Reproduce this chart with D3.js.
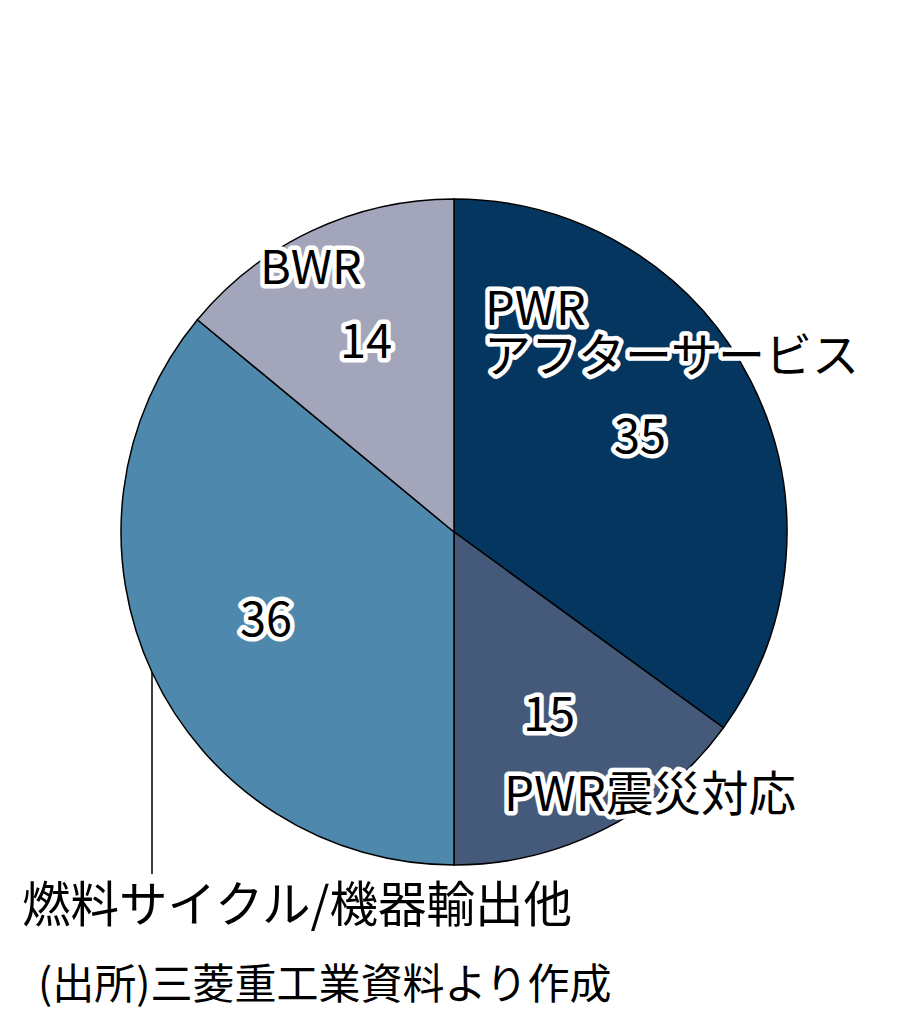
<!DOCTYPE html>
<html>
<head>
<meta charset="utf-8">
<script src="https://cdn.jsdelivr.net/npm/d3@7"></script>
<style>
  body { margin: 0; background: #fff; }
  text { font-family: "Noto Sans CJK JP", "Noto Sans", sans-serif; }
</style>
</head>
<body>
<script>
const categories = ["PWRアフターサービス", "PWR震災対応", "燃料サイクル/機器輸出他", "BWR"];
const values = [35, 15, 36, 14];
const colors = ["#04365f", "#455a7a", "#4f88ad", "#a3a6ba"];

const width = 908;
const height = 1024;
const cx = 454;
const cy = 532;
const radius = 333;

const svg = d3
  .select("body")
  .append("svg")
  .attr("width", width)
  .attr("height", height);

const pie = d3.pie().sort(null).value((d) => d);
const arc = d3.arc().innerRadius(0).outerRadius(radius);

const g = svg.append("g").attr("transform", `translate(${cx}, ${cy})`);

g.selectAll("path")
  .data(pie(values))
  .join("path")
  .attr("d", arc)
  .attr("fill", (d, i) => colors[i])
  .attr("stroke", "#000")
  .attr("stroke-width", 1.5);

// leader line for the fuel cycle slice
svg.append("line")
  .attr("x1", 152).attr("y1", 672)
  .attr("x2", 152).attr("y2", 874)
  .attr("stroke", "#000")
  .attr("stroke-width", 1.5);

// label text with white halo
function haloText(x, y, str, size, anchor) {
  const t = svg.append("g");
  t.append("text")
    .attr("x", x).attr("y", y)
    .attr("font-size", size)
    .attr("text-anchor", anchor)
    .attr("fill", "#fff")
    .attr("stroke", "#fff")
    .attr("stroke-width", 9)
    .attr("stroke-linejoin", "round")
    .text(str);
  t.append("text")
    .attr("x", x).attr("y", y)
    .attr("font-size", size)
    .attr("text-anchor", anchor)
    .attr("fill", "#000")
    .text(str);
}

haloText(485, 325, "PWR", 47, "start");
haloText(484, 372, "アフターサービス", 47, "start");
haloText(640, 453, values[0], 47, "middle");
haloText(549, 731, values[1], 47, "middle");
haloText(504, 811, "PWR震災対応", 47.5, "start");
haloText(266, 636, values[2], 47, "middle");
haloText(260, 284, "BWR", 47, "start");
haloText(366, 358, values[3], 47, "middle");

svg.append("text")
  .attr("x", 22).attr("y", 922)
  .attr("font-size", 48.5)
  .attr("fill", "#000")
  .text(categories[2]);

svg.append("text")
  .attr("x", 38).attr("y", 999)
  .attr("font-size", 42)
  .attr("fill", "#000")
  .text("(出所)三菱重工業資料より作成");
</script>
</body>
</html>
